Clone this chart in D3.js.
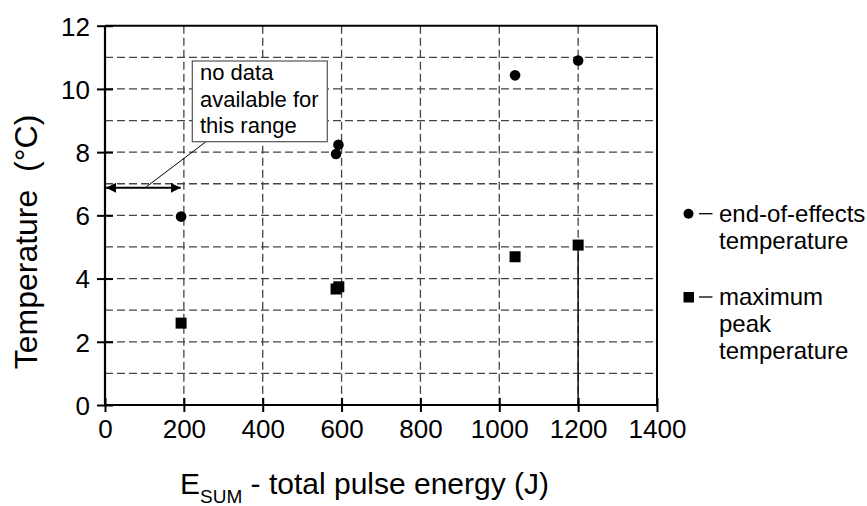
<!DOCTYPE html>
<html>
<head>
<meta charset="utf-8">
<script src="https://cdn.jsdelivr.net/npm/d3@7"></script>
<style>
  html, body { margin: 0; padding: 0; background: #fff; }
  svg { display: block; font-family: "Liberation Sans", Arial, Helvetica, sans-serif; }
</style>
</head>
<body>
<svg id="chart" width="867" height="506"></svg>
<script>
// ---- data ----
const energyEnd = [193, 586, 592, 1040, 1200];
const tempEnd   = [5.96, 7.94, 8.23, 10.43, 10.9];
const energyPeak = [193, 586, 593, 1040, 1200];
const tempPeak   = [2.59, 3.67, 3.74, 4.69, 5.06];
const xTicks = [0, 200, 400, 600, 800, 1000, 1200, 1400];
const yTicks = [0, 2, 4, 6, 8, 10, 12];
const xGrid = [200, 400, 600, 800, 1000, 1200];
const yGrid = [1, 2, 3, 4, 5, 6, 7, 8, 9, 10, 11];
const noDataRange = [0, 192];
const noDataTemp = 6.87;
const annotationLines = ["no data", "available for", "this range"];
const legendItems = [
  { shape: "circle", lines: ["end-of-effects", "temperature"] },
  { shape: "square", lines: ["maximum", "peak", "temperature"] }
];

// ---- layout ----
const svg = d3.select("#chart");
const L = 105, R = 657, T = 25.7, B = 405;
const x = d3.scaleLinear().domain([0, 1400]).range([L, R]);
const y = d3.scaleLinear().domain([0, 12]).range([B, T]);
const gridColor = "#444";

// grid
svg.append("g").selectAll("line").data(xGrid).join("line")
  .attr("x1", d => x(d)).attr("x2", d => x(d))
  .attr("y1", T).attr("y2", B)
  .attr("stroke", gridColor).attr("stroke-width", 1.3).attr("stroke-dasharray", "8,4");
svg.append("g").selectAll("line").data(yGrid).join("line")
  .attr("x1", L).attr("x2", R)
  .attr("y1", d => y(d)).attr("y2", d => y(d))
  .attr("stroke", gridColor).attr("stroke-width", 1.3).attr("stroke-dasharray", "8,4");

// solid drop line at last point
svg.append("line")
  .attr("x1", x(energyPeak[4])).attr("x2", x(energyPeak[4]))
  .attr("y1", y(0)).attr("y2", y(tempPeak[4]))
  .attr("stroke", "#111").attr("stroke-width", 1.5);

// frame top/right
svg.append("line").attr("x1", L).attr("x2", R).attr("y1", T).attr("y2", T)
  .attr("stroke", "#000").attr("stroke-width", 2);
svg.append("line").attr("x1", R).attr("x2", R).attr("y1", T).attr("y2", B)
  .attr("stroke", "#000").attr("stroke-width", 2);

// axes
const xAxis = svg.append("g").attr("transform", `translate(0,${B})`)
  .call(d3.axisBottom(x).tickValues(xTicks).tickFormat(d3.format("d")).tickSize(7).tickPadding(0));
xAxis.select(".domain").attr("stroke-width", 2.2).attr("d", `M${L},0H${R}`);
xAxis.selectAll(".tick line").attr("y1", -7).attr("y2", 7).attr("stroke-width", 2);
xAxis.selectAll(".tick text").attr("font-size", 26).attr("font-family", "Liberation Sans, Arial, sans-serif")
  .attr("fill", "#000").attr("y", 33).attr("dy", 0);

const yAxis = svg.append("g").attr("transform", `translate(${L},0)`)
  .call(d3.axisLeft(y).tickValues(yTicks).tickFormat(d3.format("d")).tickSize(8).tickPadding(0));
yAxis.select(".domain").attr("stroke-width", 2.2).attr("d", `M0,${T}V${B}`);
yAxis.selectAll(".tick line").attr("x1", -8).attr("x2", 8).attr("stroke-width", 2);
yAxis.selectAll(".tick text").attr("font-size", 26).attr("font-family", "Liberation Sans, Arial, sans-serif")
  .attr("fill", "#000").attr("x", -15).attr("dy", "0.36em");

// data markers
svg.append("g").selectAll("circle").data(energyEnd).join("circle")
  .attr("cx", (d) => x(d)).attr("cy", (d, i) => y(tempEnd[i])).attr("r", 5.3).attr("fill", "#000");
const sq = 11;
svg.append("g").selectAll("rect").data(energyPeak).join("rect")
  .attr("x", d => x(d) - sq / 2).attr("y", (d, i) => y(tempPeak[i]) - sq / 2)
  .attr("width", sq).attr("height", sq).attr("fill", "#000");

// annotation: double arrow
const defs = svg.append("defs");
defs.append("marker").attr("id", "ah").attr("viewBox", "0 0 10 10")
  .attr("refX", 10).attr("refY", 5).attr("markerWidth", 10).attr("markerHeight", 10)
  .attr("markerUnits", "userSpaceOnUse").attr("orient", "auto-start-reverse")
  .append("path").attr("d", "M0,0 L10,5 L0,10 Z").attr("fill", "#000");
const ay = y(noDataTemp);
svg.append("line")
  .attr("x1", x(noDataRange[0]) + 1).attr("x2", x(noDataRange[1]))
  .attr("y1", ay).attr("y2", ay)
  .attr("stroke", "#000").attr("stroke-width", 2)
  .attr("marker-start", "url(#ah)").attr("marker-end", "url(#ah)");

// annotation box
const bx = 192.3, by = 61, bw = 135, bh = 80.7;
svg.append("line").attr("x1", 206).attr("y1", by + bh).attr("x2", 145).attr("y2", ay)
  .attr("stroke", "#000").attr("stroke-width", 1);
svg.append("rect").attr("x", bx).attr("y", by).attr("width", bw).attr("height", bh)
  .attr("fill", "#fff").attr("stroke", "#555").attr("stroke-width", 1.2);
svg.append("text").attr("font-size", 22).attr("fill", "#000")
  .selectAll("tspan").data(annotationLines).join("tspan")
  .attr("x", 200).attr("y", (d, i) => 80 + i * 26.7).text(d => d);

// legend
const legendTop = [221.7, 305];
legendItems.forEach((item, k) => {
  const base = legendTop[k];
  const cy = base - 8;
  if (item.shape === "circle") {
    svg.append("circle").attr("cx", 688.5).attr("cy", cy).attr("r", 5).attr("fill", "#000");
  } else {
    svg.append("rect").attr("x", 683.5).attr("y", cy - 5).attr("width", 10.5).attr("height", 10.5).attr("fill", "#000");
  }
  svg.append("line").attr("x1", 699).attr("x2", 712.5).attr("y1", cy).attr("y2", cy)
    .attr("stroke", "#000").attr("stroke-width", 1.3);
  svg.append("text").attr("font-size", 24).attr("fill", "#000")
    .selectAll("tspan").data(item.lines).join("tspan")
    .attr("x", 719).attr("y", (d, i) => base + i * 27).text(d => d);
});

// axis titles
svg.append("text").attr("transform", "translate(37,242) rotate(-90)")
  .attr("text-anchor", "middle").attr("font-size", 32).attr("fill", "#000")
  .text("Temperature\u00A0\u00A0(°C)");

const xt = svg.append("text").attr("x", 180).attr("y", 494).attr("font-size", 30).attr("fill", "#000");
xt.append("tspan").text("E");
xt.append("tspan").attr("font-size", 19).attr("dy", 9).text("SUM");
xt.append("tspan").attr("dy", -9).text("\u00A0- total pulse energy (J)");
</script>
</body>
</html>
